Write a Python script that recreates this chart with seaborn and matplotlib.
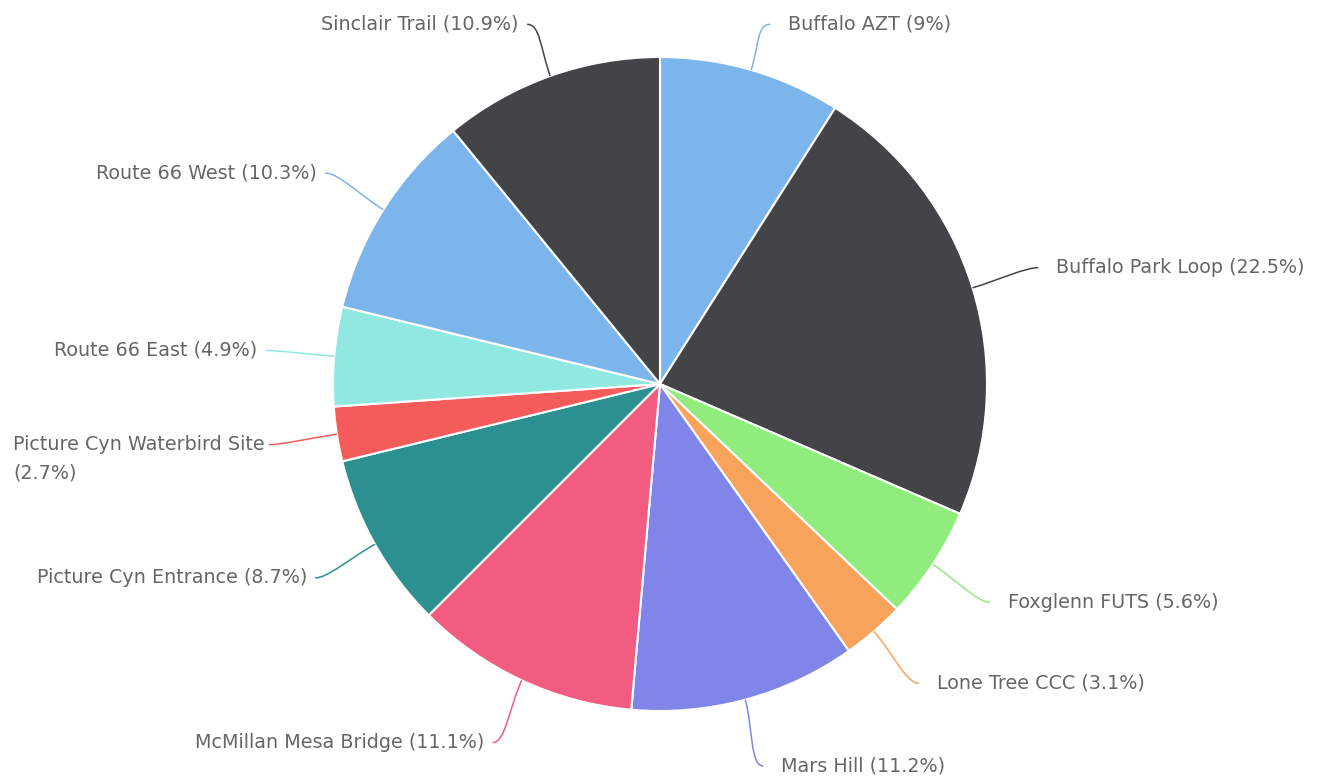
import matplotlib
matplotlib.use("Agg")
import matplotlib.pyplot as plt
import numpy as np
import seaborn as sns
from matplotlib.patches import PathPatch
from matplotlib.path import Path

# trail share of visits, clockwise from 12 o'clock
trails = [
    "Buffalo AZT",
    "Buffalo Park Loop",
    "Foxglenn FUTS",
    "Lone Tree CCC",
    "Mars Hill",
    "McMillan Mesa Bridge",
    "Picture Cyn Entrance",
    "Picture Cyn Waterbird Site",
    "Route 66 East",
    "Route 66 West",
    "Sinclair Trail",
]
shares = [9, 22.5, 5.6, 3.1, 11.2, 11.1, 8.7, 2.7, 4.9, 10.3, 10.9]
slice_colors = [
    "#7cb5ec", "#434348", "#90ed7d", "#f7a35c", "#8085e9", "#f15c80",
    "#2b908f", "#f45b5b", "#91e8e1", "#7cb5ec", "#434348",
]

W, H = 1326, 777
CX, CY, R = 660, 384, 327  # pie centre / radius in pixels

sns.set_theme(style="white")
plt.rcParams["font.family"] = ["DejaVu Sans"]

fig = plt.figure(figsize=(W / 100, H / 100), dpi=100)
ax = fig.add_axes([0, 0, 1, 1])

palette = sns.color_palette(slice_colors)
wedges, _ = ax.pie(
    shares,
    colors=palette,
    startangle=90,
    counterclock=False,
    radius=1.0,
    wedgeprops=dict(edgecolor="white", linewidth=1.5),
)

ax.set_xlim(-CX / R, (W - CX) / R)
ax.set_ylim(-(H - CY) / R, CY / R)
ax.set_aspect("equal")
ax.axis("off")

# labels with soft connectors
total = sum(shares)
cum = np.cumsum([0] + shares[:-1])
label_r = 1.21
top_y = 1.10
for name, pct, start, col in zip(trails, shares, cum, slice_colors):
    theta = np.deg2rad((start + pct / 2) / total * 360)
    s, c = np.sin(theta), np.cos(theta)
    side = 1 if s >= 0 else -1
    lx, ly = label_r * s, min(label_r * c, top_y)
    verts = [(s, c), (1.09 * s, 1.09 * c), (lx - side * 0.04, ly), (lx, ly)]
    path = Path(verts, [Path.MOVETO, Path.CURVE4, Path.CURVE4, Path.CURVE4])
    ax.add_patch(PathPatch(path, fill=False, edgecolor=col, lw=1.1))

    text = f"{name} ({pct:g}%)"
    if len(text) > 30:
        text = f"{name}\n({pct:g}%)"
    gap = 0.055 if side > 0 else 0.025
    ha = "left" if side > 0 else "right"
    if "\n" in text:
        ax.text(lx - 0.012, ly + 0.03, text, ha=ha, va="top",
                multialignment="left", fontsize=13.8, color="#666666",
                linespacing=1.65)
    else:
        ax.text(lx + side * gap, ly, text, ha=ha, va="center",
                fontsize=13.8, color="#666666")

fig.savefig("out.png", dpi=100)
